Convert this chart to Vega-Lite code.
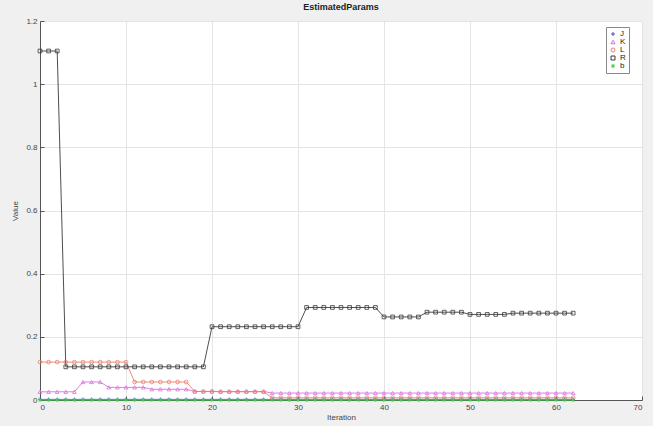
{
  "$schema": "https://vega.github.io/schema/vega-lite/v6.json",
  "width": 602,
  "height": 379,
  "autosize": {"type": "none"},
  "padding": {"left": 40, "top": 21, "right": 11, "bottom": 26},
  "background": "#f0f0f0",
  "view": {"fill": "white", "stroke": null},
  "title": {"text": "EstimatedParams", "fontSize": 9, "fontWeight": "bold", "font": "Liberation Sans", "color": "#222", "offset": 5, "anchor": "middle"},
  "config": {
    "font": "Liberation Sans",
    "axis": {
      "labelFontSize": 8, "labelColor": "#444", "titleFontSize": 8, "titleFontWeight": "normal", "titleColor": "#444",
      "domainColor": "#555", "tickColor": "#555", "gridColor": "#e4e4e4", "tickSize": -4, "labelPadding": 7
    },
    "legend": {"labelFontSize": 8, "labelColor": "#222"}
  },
  "data": {"values": [
    {"i":0,"J":0.002,"K":0.026,"L":0.12,"R":1.105,"b":0},
    {"i":1,"J":0.002,"K":0.026,"L":0.12,"R":1.105,"b":0},
    {"i":2,"J":0.002,"K":0.026,"L":0.12,"R":1.105,"b":0},
    {"i":3,"J":0.002,"K":0.026,"L":0.12,"R":0.105,"b":0},
    {"i":4,"J":0.002,"K":0.026,"L":0.12,"R":0.105,"b":0},
    {"i":5,"J":0.002,"K":0.057,"L":0.12,"R":0.105,"b":0},
    {"i":6,"J":0.002,"K":0.057,"L":0.12,"R":0.105,"b":0},
    {"i":7,"J":0.002,"K":0.057,"L":0.12,"R":0.105,"b":0},
    {"i":8,"J":0.002,"K":0.040,"L":0.12,"R":0.105,"b":0},
    {"i":9,"J":0.002,"K":0.040,"L":0.12,"R":0.105,"b":0},
    {"i":10,"J":0.002,"K":0.040,"L":0.12,"R":0.105,"b":0},
    {"i":11,"J":0.002,"K":0.040,"L":0.057,"R":0.105,"b":0},
    {"i":12,"J":0.002,"K":0.040,"L":0.057,"R":0.105,"b":0},
    {"i":13,"J":0.002,"K":0.034,"L":0.057,"R":0.105,"b":0},
    {"i":14,"J":0.002,"K":0.034,"L":0.057,"R":0.105,"b":0},
    {"i":15,"J":0.002,"K":0.034,"L":0.057,"R":0.105,"b":0},
    {"i":16,"J":0.002,"K":0.034,"L":0.057,"R":0.105,"b":0},
    {"i":17,"J":0.002,"K":0.034,"L":0.057,"R":0.105,"b":0},
    {"i":18,"J":0.002,"K":0.027,"L":0.027,"R":0.105,"b":0},
    {"i":19,"J":0.002,"K":0.027,"L":0.027,"R":0.105,"b":0},
    {"i":20,"J":0.002,"K":0.027,"L":0.027,"R":0.232,"b":0},
    {"i":21,"J":0.002,"K":0.027,"L":0.026,"R":0.232,"b":0},
    {"i":22,"J":0.002,"K":0.027,"L":0.026,"R":0.232,"b":0},
    {"i":23,"J":0.002,"K":0.027,"L":0.026,"R":0.232,"b":0},
    {"i":24,"J":0.002,"K":0.027,"L":0.026,"R":0.232,"b":0},
    {"i":25,"J":0.002,"K":0.027,"L":0.026,"R":0.232,"b":0},
    {"i":26,"J":0.002,"K":0.027,"L":0.026,"R":0.232,"b":0},
    {"i":27,"J":0.002,"K":0.022,"L":0.007,"R":0.232,"b":0},
    {"i":28,"J":0.002,"K":0.022,"L":0.007,"R":0.232,"b":0},
    {"i":29,"J":0.002,"K":0.022,"L":0.007,"R":0.232,"b":0},
    {"i":30,"J":0.002,"K":0.022,"L":0.007,"R":0.232,"b":0},
    {"i":31,"J":0.002,"K":0.022,"L":0.007,"R":0.293,"b":0},
    {"i":32,"J":0.002,"K":0.022,"L":0.007,"R":0.293,"b":0},
    {"i":33,"J":0.002,"K":0.022,"L":0.007,"R":0.293,"b":0},
    {"i":34,"J":0.002,"K":0.022,"L":0.007,"R":0.293,"b":0},
    {"i":35,"J":0.002,"K":0.022,"L":0.007,"R":0.293,"b":0},
    {"i":36,"J":0.002,"K":0.022,"L":0.007,"R":0.293,"b":0},
    {"i":37,"J":0.002,"K":0.022,"L":0.007,"R":0.293,"b":0},
    {"i":38,"J":0.002,"K":0.022,"L":0.007,"R":0.293,"b":0},
    {"i":39,"J":0.002,"K":0.022,"L":0.007,"R":0.293,"b":0},
    {"i":40,"J":0.002,"K":0.022,"L":0.007,"R":0.263,"b":0},
    {"i":41,"J":0.002,"K":0.022,"L":0.007,"R":0.263,"b":0},
    {"i":42,"J":0.002,"K":0.022,"L":0.007,"R":0.263,"b":0},
    {"i":43,"J":0.002,"K":0.022,"L":0.007,"R":0.263,"b":0},
    {"i":44,"J":0.002,"K":0.022,"L":0.007,"R":0.263,"b":0},
    {"i":45,"J":0.002,"K":0.022,"L":0.007,"R":0.278,"b":0},
    {"i":46,"J":0.002,"K":0.022,"L":0.007,"R":0.278,"b":0},
    {"i":47,"J":0.002,"K":0.022,"L":0.007,"R":0.278,"b":0},
    {"i":48,"J":0.002,"K":0.022,"L":0.007,"R":0.278,"b":0},
    {"i":49,"J":0.002,"K":0.022,"L":0.007,"R":0.278,"b":0},
    {"i":50,"J":0.002,"K":0.022,"L":0.007,"R":0.271,"b":0},
    {"i":51,"J":0.002,"K":0.022,"L":0.007,"R":0.271,"b":0},
    {"i":52,"J":0.002,"K":0.022,"L":0.007,"R":0.271,"b":0},
    {"i":53,"J":0.002,"K":0.022,"L":0.007,"R":0.271,"b":0},
    {"i":54,"J":0.002,"K":0.022,"L":0.007,"R":0.271,"b":0},
    {"i":55,"J":0.002,"K":0.022,"L":0.007,"R":0.275,"b":0},
    {"i":56,"J":0.002,"K":0.022,"L":0.007,"R":0.275,"b":0},
    {"i":57,"J":0.002,"K":0.022,"L":0.007,"R":0.275,"b":0},
    {"i":58,"J":0.002,"K":0.022,"L":0.007,"R":0.275,"b":0},
    {"i":59,"J":0.002,"K":0.022,"L":0.007,"R":0.275,"b":0},
    {"i":60,"J":0.002,"K":0.022,"L":0.007,"R":0.275,"b":0},
    {"i":61,"J":0.002,"K":0.022,"L":0.007,"R":0.275,"b":0},
    {"i":62,"J":0.002,"K":0.022,"L":0.007,"R":0.275,"b":0}
  ]},
  "transform": [{"fold": ["J", "K", "L", "R", "b"], "as": ["s", "v"]}],
  "encoding": {
    "x": {"field": "i", "type": "quantitative", "scale": {"domain": [0, 70], "nice": false},
          "axis": {"title": "Iteration", "values": [0,10,20,30,40,50,60,70], "format": "d", "titlePadding": 2}},
    "y": {"field": "v", "type": "quantitative", "scale": {"domain": [0, 1.2], "nice": false},
          "axis": {"title": "Value", "values": [0,0.2,0.4,0.6,0.8,1,1.2], "format": "~r", "titlePadding": 6}},
    "color": {"field": "s", "type": "nominal", "title": null,
              "scale": {"domain": ["J","K","L","R","b"], "range": ["#4b4be0", "#dd6ee0", "#e8806c", "#3a3a3a", "#3fd44a"]},
              "legend": {"orient": "none", "legendX": 566, "legendY": 6, "strokeColor": "#888", "fillColor": "white", "padding": 3, "rowPadding": 0, "symbolSize": 16, "symbolStrokeWidth": 1, "labelOffset": 3, "symbolOffset": 0, "labelFontSize": 8}}
  },
  "layer": [
    {"mark": {"type": "line", "strokeWidth": 0.9}},
    {"mark": {"type": "point", "filled": false, "strokeWidth": 0.8, "size": 14, "opacity": 1},
     "encoding": {"shape": {"field": "s", "type": "nominal", "title": null,
       "scale": {"domain": ["J","K","L","R","b"], "range": ["M-1,0H1M0,-1V1", "triangle-up", "circle", "square", "M-1,0H1M0,-1V1M-0.7,-0.7L0.7,0.7M-0.7,0.7L0.7,-0.7"]}}}}
  ]
}
